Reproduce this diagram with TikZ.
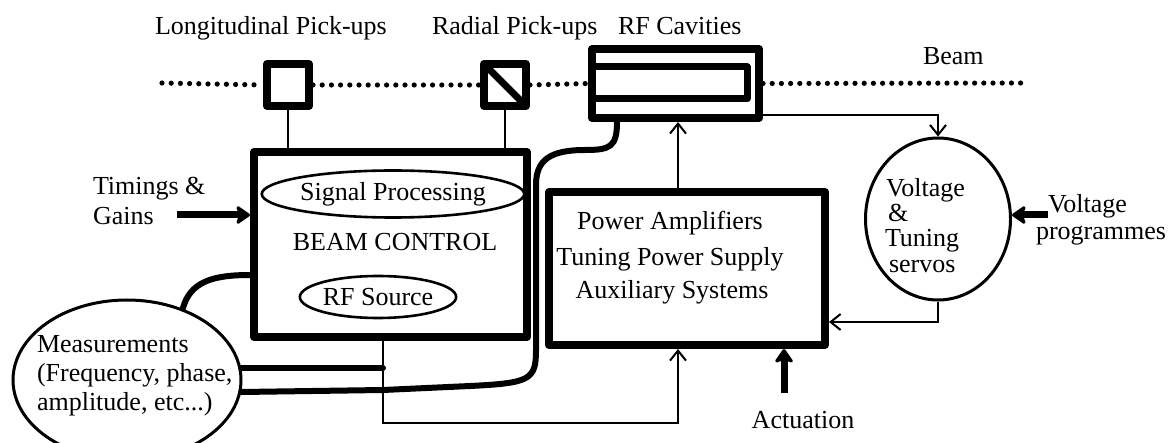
\documentclass[tikz,border=0pt]{standalone}
\usepackage{fontspec}
\setmainfont{Liberation Serif}
\usetikzlibrary{arrows.meta,shapes.geometric,calc}
\begin{document}
\begin{tikzpicture}[x=0.5pt,y=-0.5pt,
  lbl/.style={font=\fontsize{13}{15}\selectfont, inner sep=0pt, outer sep=0pt},
  heavybox/.style={draw, line width=4pt, line join=round, inner sep=0pt},
  oval/.style={draw, ellipse, line width=1.3pt, inner sep=0pt, font=\fontsize{13}{15}\selectfont},
  wire/.style={line width=1pt},
  wirearrow/.style={wire, -{Straight Barb[length=5pt,width=8pt]}},
  cable/.style={line width=3pt, line cap=round},
  fatarrow/.style={line width=3.5pt, -{Stealth[length=8pt,width=11pt,inset=2pt,round]}},
  beamdots/.style={line width=2.6pt, line cap=round, dash pattern=on 0pt off 4.6pt}]
\useasboundingbox (0,0) rectangle (1172,443);

% titles
\node[lbl, anchor=base west] (tlong) at (155,35) {Longitudinal Pick-ups};
\node[lbl, anchor=base west] (trad) at (432,35) {Radial Pick-ups};
\node[lbl, anchor=base west] (trf) at (618,35) {RF Cavities};
\node[lbl, anchor=base west] (tbeam) at (923,65) {Beam};

% pick-ups
\node[heavybox, minimum width=21pt, minimum height=21pt] (lpu) at (288,85) {};
\node[heavybox, minimum width=21pt, minimum height=21pt] (rpu) at (505,85) {};
\draw[line width=3.5pt] ($(rpu.north west)+(4,4)$) -- ($(rpu.south east)+(-4,-4)$);

% RF cavities
\node[heavybox, minimum width=83.5pt, minimum height=34.5pt] (rf) at (675.5,83.5) {};
\draw[line width=3.5pt, line join=round] (592,67) -- (747,67) -- (747,99) -- (592,99);

% beam
\coordinate (bs) at (162,83);
\coordinate (be) at (1023,83);
\draw[beamdots] (bs) -- (lpu.west);
\draw[beamdots] (lpu.east) -- (rpu.west);
\draw[beamdots] (rpu.east) -- (rf.west);
\draw[beamdots] (rf.east) -- (be);

% beam control
\node[heavybox, minimum width=136.5pt, minimum height=92.5pt] (bc) at (390.5,244.5) {};
\node[oval, minimum width=125.5pt, minimum height=23.5pt] (sp) at (393,194) {Signal Processing};
\node[lbl, anchor=base] (bctxt) at (395,250) {BEAM CONTROL};
\node[oval, minimum width=64pt, minimum height=21pt] (rfs) at (378,297) {RF Source};

\draw[wire] (lpu.south) -- (lpu.south |- bc.north);
\draw[wire] (rpu.south) -- (rpu.south |- bc.north);

% power amplifiers
\node[heavybox, minimum width=138pt, minimum height=76.5pt] (pa) at (687,268.5) {};
\node[lbl, anchor=base] (pa1) at (670,230) {Power Amplifiers};
\node[lbl, anchor=base] (pa2) at (670,265) {Tuning Power Supply};
\node[lbl, anchor=base] (pa3) at (672,299) {Auxiliary Systems};

% voltage & tuning servos
\node[draw, ellipse, line width=1.5pt, inner sep=0pt, minimum width=72.5pt, minimum height=81pt] (vt) at (938,219) {};
\node[lbl, anchor=base west] (vt1) at (886,197) {Voltage};
\node[lbl, anchor=base west] (vt2) at (888,222) {\&};
\node[lbl, anchor=base west] (vt3) at (885,247) {Tuning};
\node[lbl, anchor=base west] (vt4) at (889,272) {servos};

\node[lbl, anchor=base west] (vp1) at (1048,213) {Voltage};
\node[lbl, anchor=base west] (vp2) at (1036,240) {programmes};
\coordinate (vp) at (1048,215);
\draw[fatarrow] (vp) -- (vp -| vt.east);

% timings
\node[lbl, anchor=base west] (tg1) at (93,195) {Timings \&};
\node[lbl, anchor=base west] (tg2) at (93,225) {Gains};
\coordinate (tg) at (177,215);
\draw[fatarrow] (tg) -- (tg -| bc.west);

% measurements
\node[draw, ellipse, line width=1.5pt, inner sep=0pt, minimum width=114pt, minimum height=80pt] (meas) at (127,380) {};
\node[lbl, anchor=base west] (m1) at (37,352) {Measurements};
\node[lbl, anchor=base west] (m2) at (37,381) {(Frequency, phase,};
\node[lbl, anchor=base west] (m3) at (37,410) {amplitude, etc...)};

\coordinate (y275) at (0,275);
\coordinate (jx) at (383,0);
\coordinate (jb) at (383,423);
\coordinate (ax) at (678,0);
\coordinate (rfc) at (617,0);

\draw[cable] (meas.52) .. controls (190,282) and (212,275) .. (bc.west |- y275);
\draw[cable] (meas.6) -- (meas.6 -| jx);
\draw[cable] (meas.-6) -- (383,390) -- (470,386)
  .. controls +(60,-3) and +(0,30) .. (536,350) -- (536,185)
  .. controls +(0,-25) and +(-35,0) .. (585,150)
  .. controls +(25,0) and +(0,25) .. (rfc |- rf.south);

% thin connectors
\draw[wirearrow] (bc.south -| jx) -- (jb) -| (ax |- pa.south);
\draw[wirearrow] (ax |- pa.north) -- (ax |- rf.south);
\draw[wirearrow] ($(rf.south east)+(0,-7)$) -| (vt.north);
\draw[wirearrow] (vt.south) |- ($(pa.south east)+(0,-27)$);

% actuation
\coordinate (act) at (784,393);
\draw[fatarrow] (act) -- (act |- pa.south);
\node[lbl, anchor=base] (actt) at (803,428) {Actuation};
\end{tikzpicture}
\end{document}
